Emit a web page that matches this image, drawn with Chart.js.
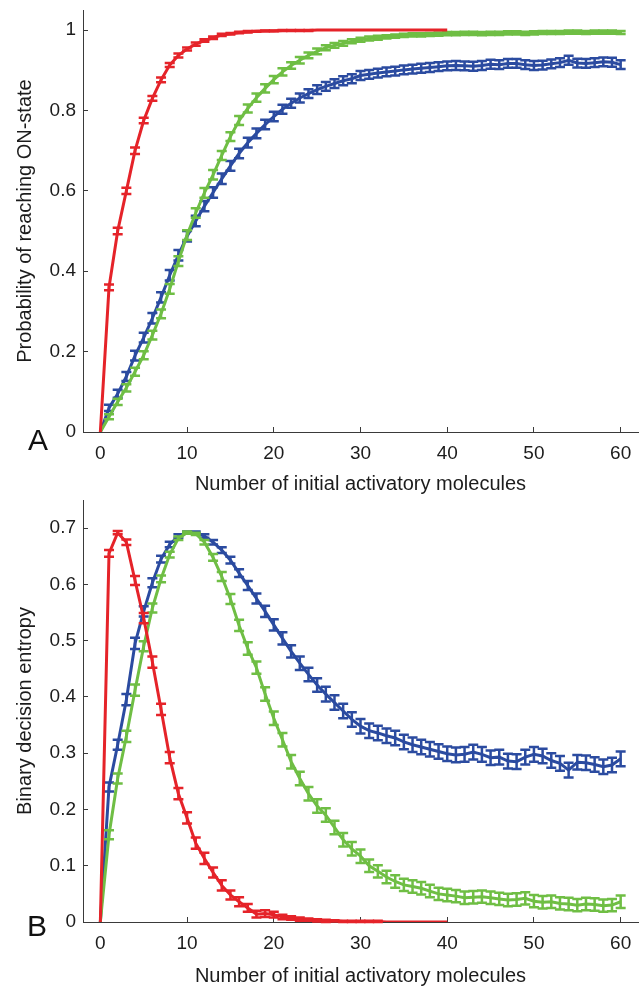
<!DOCTYPE html>
<html>
<head>
<meta charset="utf-8">
<script src="https://cdn.jsdelivr.net/npm/chart.js@4.4.0/dist/chart.umd.min.js"></script>
<style>
  html, body { margin: 0; padding: 0; background: #fff; overflow: hidden; }
  #wrap { position: relative; width: 641px; height: 986px; }
  canvas { position: absolute; left: 0; }
  #chartA { top: 0; }
  #chartB { top: 488px; }
  .panel { position: absolute; font-family: "Liberation Sans", Arial, sans-serif; font-size: 30px; line-height: 30px; color: #111; }
  #labelA { left: 28px; top: 425px; }
  #labelB { left: 27px; top: 911px; }
</style>
</head>
<body>
<div id="wrap">
  <canvas id="chartA" width="641" height="500"></canvas>
  <canvas id="chartB" width="641" height="498"></canvas>
  <div class="panel" id="labelA">A</div>
  <div class="panel" id="labelB">B</div>
</div>
<script>
// number of initial activatory molecules
var molecules = [0, 1, 2, 3, 4, 5, 6, 7, 8, 9, 10, 11, 12, 13, 14, 15, 16, 17, 18, 19, 20,
  21, 22, 23, 24, 25, 26, 27, 28, 29, 30, 31, 32, 33, 34, 35, 36, 37, 38, 39, 40,
  41, 42, 43, 44, 45, 46, 47, 48, 49, 50, 51, 52, 53, 54, 55, 56, 57, 58, 59, 60];

var xTicks = [0, 10, 20, 30, 40, 50, 60];
var yTicksA = [0, 0.2, 0.4, 0.6, 0.8, 1];
var yTicksB = [0, 0.1, 0.2, 0.3, 0.4, 0.5, 0.6, 0.7];

// Panel A: probability of reaching ON-state
var probRed = [0, 0.36, 0.5, 0.6, 0.7, 0.775, 0.83, 0.876, 0.913, 0.937,
  0.953, 0.965, 0.974, 0.981, 0.988, 0.991, 0.994, 0.996, 0.997, 0.998,
  0.998, 0.999, 0.999, 0.999, 0.999, 1, 1, 1, 1, 1,
  1, 1, 1, 1, 1, 1, 1, 1, 1, 1, 1];
var probRedErr = [0, 0.007, 0.008, 0.008, 0.008, 0.007, 0.006, 0.006, 0.005, 0.005,
  0.004, 0.004, 0.003, 0.003, 0.003, 0.002, 0.002, 0.002, 0.001, 0.001,
  0.001, 0.001, 0.001, 0.001, 0.001, 0, 0, 0, 0, 0,
  0, 0, 0, 0, 0, 0, 0, 0, 0, 0, 0];

var probGreen = [0, 0.038, 0.075, 0.11, 0.15, 0.191, 0.241, 0.294, 0.356, 0.425,
  0.49, 0.545, 0.595, 0.64, 0.688, 0.735, 0.775, 0.805, 0.832, 0.855,
  0.877, 0.896, 0.912, 0.925, 0.937, 0.947, 0.956, 0.962, 0.967, 0.972,
  0.976, 0.979, 0.981, 0.983, 0.985, 0.987, 0.988, 0.988, 0.989, 0.99,
  0.991, 0.991, 0.992, 0.992, 0.991, 0.992, 0.992, 0.993, 0.993, 0.992,
  0.993, 0.994, 0.994, 0.994, 0.995, 0.995, 0.994, 0.995, 0.995, 0.995, 0.994];
var probGreenErr = [0, 0.006, 0.008, 0.009, 0.01, 0.01, 0.011, 0.011, 0.012, 0.012,
  0.012, 0.012, 0.012, 0.012, 0.011, 0.011, 0.011, 0.01, 0.01, 0.01,
  0.009, 0.009, 0.008, 0.008, 0.007, 0.007, 0.006, 0.006, 0.006, 0.005,
  0.005, 0.005, 0.005, 0.004, 0.004, 0.004, 0.004, 0.004, 0.004, 0.004,
  0.004, 0.004, 0.004, 0.004, 0.004, 0.004, 0.004, 0.004, 0.004, 0.004,
  0.004, 0.004, 0.004, 0.004, 0.004, 0.004, 0.004, 0.004, 0.004, 0.004, 0.004];

var probBlue = [0, 0.06, 0.095, 0.138, 0.19, 0.235, 0.283, 0.335, 0.39, 0.44,
  0.487, 0.525, 0.562, 0.596, 0.63, 0.662, 0.693, 0.72, 0.743, 0.765,
  0.785, 0.803, 0.818, 0.831, 0.842, 0.852, 0.86, 0.867, 0.874, 0.879,
  0.887, 0.89, 0.893, 0.896, 0.898, 0.901, 0.903, 0.905, 0.907, 0.909,
  0.911, 0.912, 0.911, 0.91, 0.912, 0.915, 0.914, 0.917, 0.917, 0.914,
  0.912, 0.913, 0.916, 0.919, 0.925, 0.918, 0.917, 0.919, 0.921, 0.92, 0.914];
var probBlueErr = [0, 0.008, 0.01, 0.011, 0.012, 0.012, 0.013, 0.013, 0.013, 0.013,
  0.013, 0.013, 0.013, 0.013, 0.013, 0.012, 0.012, 0.012, 0.012, 0.012,
  0.012, 0.011, 0.011, 0.011, 0.011, 0.011, 0.011, 0.011, 0.011, 0.011,
  0.011, 0.011, 0.011, 0.011, 0.011, 0.011, 0.011, 0.011, 0.011, 0.011,
  0.011, 0.011, 0.011, 0.011, 0.011, 0.011, 0.011, 0.011, 0.011, 0.011,
  0.011, 0.011, 0.011, 0.011, 0.011, 0.011, 0.011, 0.011, 0.011, 0.011, 0.011];

// Panel B: binary decision entropy
var entRed = [0, 0.655, 0.692, 0.675, 0.607, 0.54, 0.462, 0.378, 0.292, 0.228,
  0.185, 0.14, 0.113, 0.088, 0.065, 0.048, 0.036, 0.025, 0.014, 0.015,
  0.013, 0.009, 0.007, 0.005, 0.004, 0.003, 0.002, 0.002, 0.001, 0.001,
  0.001, 0.001, 0.001, 0, 0, 0, 0, 0, 0, 0, 0];
var entRedErr = [0, 0.006, 0.003, 0.005, 0.008, 0.009, 0.01, 0.01, 0.01, 0.01,
  0.01, 0.01, 0.01, 0.009, 0.009, 0.008, 0.008, 0.007, 0.006, 0.006,
  0.005, 0.004, 0.003, 0.003, 0.002, 0.002, 0.002, 0.001, 0.001, 0.001,
  0.001, 0.001, 0.001, 0, 0, 0, 0, 0, 0, 0, 0];

var entGreen = [0, 0.155, 0.255, 0.33, 0.412, 0.49, 0.558, 0.61, 0.653, 0.682,
  0.692, 0.69, 0.675, 0.648, 0.614, 0.574, 0.527, 0.486, 0.452, 0.405,
  0.362, 0.324, 0.285, 0.255, 0.228, 0.206, 0.19, 0.168, 0.146, 0.13,
  0.117, 0.1, 0.09, 0.08, 0.072, 0.066, 0.063, 0.06, 0.055, 0.05,
  0.048, 0.046, 0.043, 0.044, 0.045, 0.043, 0.041, 0.039, 0.04, 0.042,
  0.037, 0.035, 0.036, 0.033, 0.032, 0.03, 0.032, 0.031, 0.029, 0.03, 0.036];
var entGreenErr = [0, 0.008, 0.009, 0.01, 0.01, 0.009, 0.008, 0.006, 0.005, 0.003,
  0.002, 0.002, 0.004, 0.006, 0.008, 0.009, 0.01, 0.011, 0.011, 0.012,
  0.012, 0.012, 0.012, 0.012, 0.012, 0.012, 0.012, 0.012, 0.012, 0.012,
  0.012, 0.011, 0.011, 0.011, 0.011, 0.011, 0.011, 0.011, 0.011, 0.011,
  0.011, 0.011, 0.011, 0.011, 0.011, 0.011, 0.011, 0.011, 0.011, 0.011,
  0.011, 0.011, 0.011, 0.011, 0.011, 0.011, 0.011, 0.011, 0.011, 0.011, 0.011];

var entBlue = [0, 0.24, 0.315, 0.395, 0.495, 0.552, 0.603, 0.645, 0.671, 0.686,
  0.692, 0.692, 0.686, 0.675, 0.661, 0.643, 0.62, 0.598, 0.575, 0.552,
  0.528, 0.504, 0.481, 0.46, 0.44, 0.421, 0.405, 0.39, 0.375, 0.36,
  0.348, 0.34, 0.336, 0.331, 0.327, 0.32, 0.315, 0.311, 0.307, 0.303,
  0.299, 0.297, 0.298, 0.302, 0.298, 0.292, 0.293, 0.286, 0.285, 0.293,
  0.298, 0.295, 0.287, 0.282, 0.27, 0.284, 0.283, 0.28, 0.276, 0.279, 0.29];
var entBlueErr = [0, 0.008, 0.009, 0.01, 0.01, 0.009, 0.008, 0.006, 0.005, 0.003,
  0.002, 0.002, 0.003, 0.004, 0.005, 0.006, 0.007, 0.008, 0.009, 0.01,
  0.01, 0.011, 0.011, 0.012, 0.012, 0.012, 0.013, 0.013, 0.013, 0.013,
  0.013, 0.013, 0.013, 0.013, 0.013, 0.013, 0.013, 0.013, 0.013, 0.013,
  0.013, 0.013, 0.013, 0.013, 0.013, 0.013, 0.013, 0.013, 0.013, 0.013,
  0.013, 0.013, 0.013, 0.013, 0.013, 0.013, 0.013, 0.013, 0.013, 0.013, 0.013];

var RED = '#e52329';
var GREEN = '#6fbe44';
var BLUE = '#2b4ba0';
var AXIS = '#3a3a3a';
var TEXT = '#1c1c1c';
var FONT = '"Liberation Sans", Arial, Helvetica, sans-serif';

// draws vertical error bars with caps, using the chart's y scale
var errorBars = {
  id: 'errorBars',
  afterDatasetDraw: function (chart, args) {
    var ds = chart.data.datasets[args.index];
    if (!ds.errors) return;
    var ctx = chart.ctx;
    var yScale = chart.scales.y;
    var cap = 5;
    ctx.save();
    ctx.strokeStyle = ds.borderColor;
    ctx.lineWidth = 2.5;
    args.meta.data.forEach(function (pt, i) {
      var v = ds.data[i].y, e = ds.errors[i];
      if (!e) return;
      var yLo = yScale.getPixelForValue(v - e);
      var yHi = yScale.getPixelForValue(v + e);
      ctx.beginPath();
      ctx.moveTo(pt.x, yLo); ctx.lineTo(pt.x, yHi);
      ctx.moveTo(pt.x - cap, yLo); ctx.lineTo(pt.x + cap, yLo);
      ctx.moveTo(pt.x - cap, yHi); ctx.lineTo(pt.x + cap, yHi);
      ctx.stroke();
    });
    ctx.restore();
  }
};

function series(values, errors, color) {
  return {
    data: values.map(function (v, i) { return { x: molecules[i], y: v }; }),
    errors: errors,
    borderColor: color,
    backgroundColor: color,
    borderWidth: 3,
    pointRadius: 0,
    tension: 0,
    fill: false
  };
}

// keep the scales from asking the layout for extra room around the labels
function noScalePadding(scale) {
  scale.paddingTop = 0;
  scale.paddingBottom = 0;
  scale.paddingLeft = 0;
  scale.paddingRight = 0;
}

function makePanel(id, datasets, yMax, yTicks, yTitle, padTop, xHeight, xTitlePad) {
  var ctx = document.getElementById(id).getContext('2d');
  return new Chart(ctx, {
    type: 'line',
    data: { datasets: datasets },
    options: {
      responsive: false,
      animation: false,
      layout: { padding: { top: padTop, right: 3, left: 0, bottom: 0 } },
      plugins: { legend: { display: false }, tooltip: { enabled: false } },
      scales: {
        x: {
          type: 'linear',
          min: -2,
          max: 62,
          afterBuildTicks: function (scale) {
            scale.ticks = xTicks.map(function (v) { return { value: v }; });
          },
          afterFit: function (scale) { scale.height = xHeight; noScalePadding(scale); },
          grid: { drawOnChartArea: false, drawTicks: true, tickLength: -5, color: AXIS, lineWidth: 1 },
          border: { display: true, color: AXIS, width: 1 },
          ticks: {
            color: TEXT, padding: 17, maxRotation: 0, autoSkip: false,
            font: { family: FONT, size: 19, lineHeight: 1 },
            callback: function (v) { return String(v); }
          },
          title: {
            display: true,
            text: 'Number of initial activatory molecules',
            color: TEXT,
            font: { family: FONT, size: 20, lineHeight: 1 },
            padding: { top: 0, bottom: xTitlePad }
          }
        },
        y: {
          min: 0,
          max: yMax,
          afterBuildTicks: function (scale) {
            scale.ticks = yTicks.map(function (v) { return { value: v }; });
          },
          afterFit: function (scale) { scale.width = 83; noScalePadding(scale); },
          grid: { drawOnChartArea: false, drawTicks: true, tickLength: -5, color: AXIS, lineWidth: 1 },
          border: { display: true, color: AXIS, width: 1 },
          ticks: {
            color: TEXT, padding: 12, autoSkip: false,
            font: { family: FONT, size: 19, lineHeight: 1 },
            callback: function (v) { return String(v); }
          },
          title: {
            display: true,
            text: yTitle,
            color: TEXT,
            font: { family: FONT, size: 20, lineHeight: 1 },
            padding: { top: 15, bottom: 0 }
          }
        }
      }
    },
    plugins: [errorBars]
  });
}

// red first so it is painted on top, blue at the bottom
var chartA = makePanel('chartA', [
  series(probRed, probRedErr, RED),
  series(probGreen, probGreenErr, GREEN),
  series(probBlue, probBlueErr, BLUE)
], 1.05, yTicksA, 'Probability of reaching ON-state', 10, 68, 6);

var chartB = makePanel('chartB', [
  series(entRed, entRedErr, RED),
  series(entGreen, entGreenErr, GREEN),
  series(entBlue, entBlueErr, BLUE)
], 0.75, yTicksB, 'Binary decision entropy', 12, 64, 0);
</script>
</body>
</html>
